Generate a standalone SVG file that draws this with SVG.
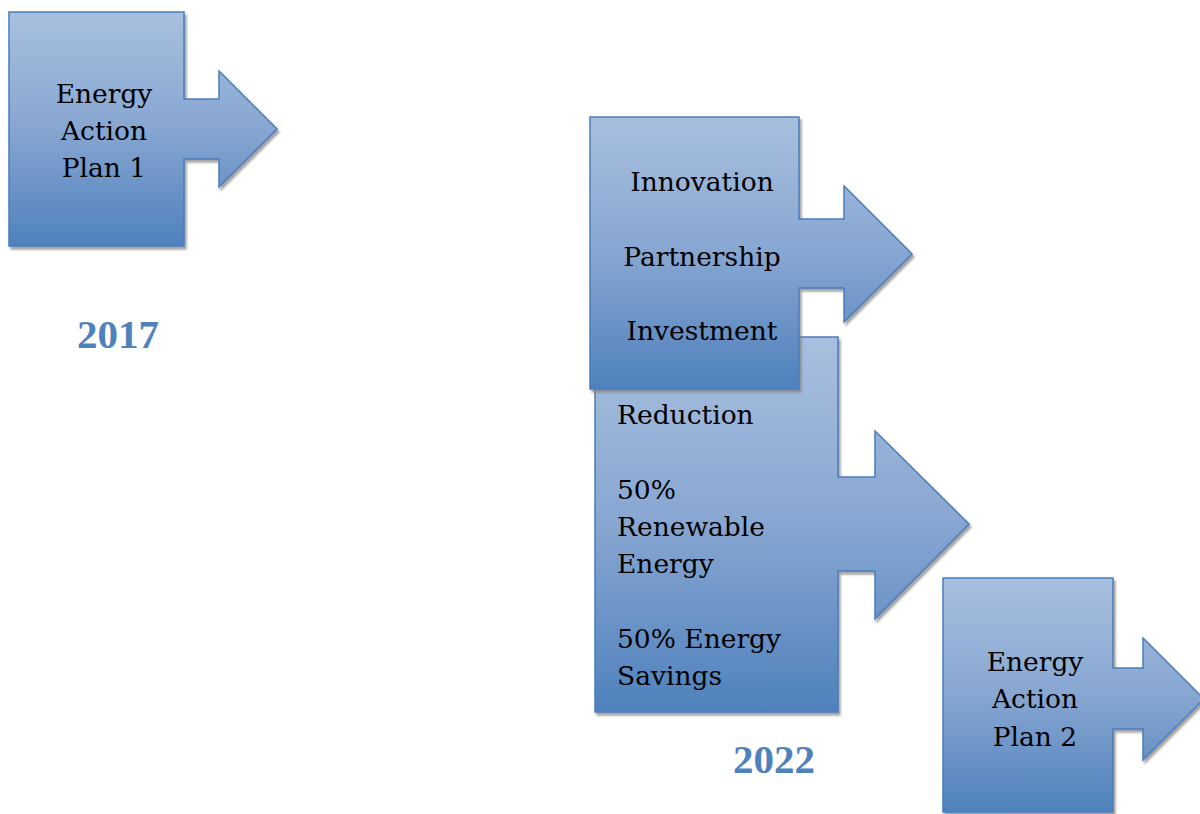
<svg xmlns="http://www.w3.org/2000/svg" width="1200" height="814" viewBox="0 0 1200 814">
<style>
.shape{fill:url(#g);stroke:#4a7ebb;stroke-width:1.5;filter:url(#sh)}
.t{font-family:"DejaVu Serif","Liberation Serif",serif;font-size:26.5px;fill:#000}
.c{text-anchor:middle}
.yr{font-family:"Liberation Serif",serif;font-weight:bold;font-size:41px;fill:#4f81bd;text-anchor:middle}
</style>
<defs>
<linearGradient id="g" x1="0" y1="0" x2="0" y2="1">
<stop offset="0" stop-color="#a8c0df"/>
<stop offset="0.5" stop-color="#87a6d1"/>
<stop offset="1" stop-color="#4f81bd"/>
</linearGradient>
<filter id="sh" x="-10%" y="-10%" width="120%" height="120%">
<feDropShadow dx="2" dy="3" stdDeviation="0.8" flood-color="#7f7f7f" flood-opacity="0.7"/>
</filter>
</defs>
<rect width="1200" height="814" fill="#fff"/>
<g id="node-plan1">
<path class="shape" d="M9,12 H184 V99 H219 V71 L277,129 L219,187 V159 H184 V246 H9 Z"/>
<text class="t c" x="104" y="103">Energy</text>
<text class="t c" x="104" y="140">Action</text>
<text class="t c" x="104" y="177">Plan 1</text>
</g>
<g id="node-targets">
<path class="shape" d="M595,337 H838 V477 H875 V431 L969,524 L875,619 V571 H838 V712 H595 Z"/>
<text class="t" x="617" y="424">Reduction</text>
<text class="t" x="617" y="499">50%</text>
<text class="t" x="617" y="536">Renewable</text>
<text class="t" x="617" y="573">Energy</text>
<text class="t" x="617" y="648">50% Energy</text>
<text class="t" x="617" y="685">Savings</text>
</g>
<g id="node-pillars">
<path class="shape" d="M590,117 H799 V219 H844 V186 L912,254 L844,322 V288 H799 V389 H590 Z"/>
<text class="t c" x="702" y="191">Innovation</text>
<text class="t c" x="702" y="266">Partnership</text>
<text class="t c" x="702" y="340">Investment</text>
</g>
<g id="node-plan2">
<path class="shape" d="M943,578 H1113 V668 H1143 V638 L1204,699 L1143,760 V729 H1113 V812 H943 Z"/>
<text class="t c" x="1035" y="671">Energy</text>
<text class="t c" x="1035" y="708">Action</text>
<text class="t c" x="1035" y="746">Plan 2</text>
</g>
<g id="labels">
<text class="yr" x="118" y="348">2017</text>
<text class="yr" x="774" y="773">2022</text>
</g>
<g id="connectors"/>
</svg>
